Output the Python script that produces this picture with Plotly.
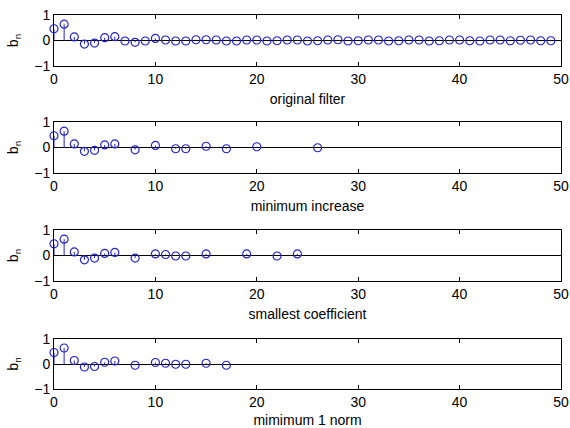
import plotly.graph_objects as go

# ---- data ----
orig_n = list(range(50))
orig_b = [0.46, 0.64, 0.14, -0.14, -0.10, 0.11, 0.15, -0.02, -0.07, -0.02,
          0.08, 0.02, -0.02, -0.02, 0.03, 0.03, 0.02, -0.02, -0.02, 0.02,
          0.02, -0.02, -0.01, 0.02, 0.02, -0.02, -0.01, 0.02, 0.03, -0.02,
          -0.01, 0.02, 0.02, -0.02, -0.01, 0.02, 0.02, -0.02, -0.01, 0.02,
          0.02, -0.01, -0.02, 0.02, 0.02, -0.01, 0.01, 0.02, -0.01, -0.01]

mininc_n = [0, 1, 2, 3, 4, 5, 6, 8, 10, 12, 13, 15, 17, 20, 26]
mininc_b = [0.46, 0.64, 0.14, -0.15, -0.11, 0.10, 0.14, -0.09, 0.08, -0.05, -0.05, 0.05, -0.05, 0.03, -0.01]

small_n = [0, 1, 2, 3, 4, 5, 6, 8, 10, 11, 12, 13, 15, 19, 22, 24]
small_b = [0.46, 0.64, 0.14, -0.17, -0.10, 0.08, 0.12, -0.10, 0.06, 0.04, -0.02, -0.02, 0.06, 0.06, -0.02, 0.06]

l1_n = [0, 1, 2, 3, 4, 5, 6, 8, 10, 11, 12, 13, 15, 17]
l1_b = [0.46, 0.64, 0.14, -0.12, -0.10, 0.07, 0.12, -0.05, 0.06, 0.03, -0.01, -0.01, 0.03, -0.05]

titles = ["original filter", "minimum increase", "smallest coefficient", "mimimum 1 norm"]
x_ticks = [0, 10, 20, 30, 40, 50]
y_ticks = [-1, 0, 1]

series = [(orig_n, orig_b), (mininc_n, mininc_b), (small_n, small_b), (l1_n, l1_b)]

W, H = 570, 428
ML, MR, MT, MB = 54, 9, 15, 39
PW, PH = W - ML - MR, H - MT - MB
y_px = [(15, 66), (122, 173), (230, 281), (339, 389)]

BLUE = "#2424c8"
FONT = "Liberation Sans, Arial, sans-serif"
FS = 14

fig = go.Figure()
layout = dict(
    width=W, height=H, margin=dict(l=ML, r=MR, t=MT, b=MB, autoexpand=False),
    paper_bgcolor="white", plot_bgcolor="white", showlegend=False,
    font=dict(family=FONT, size=FS, color="black"),
)

for i, ((ns, bs), title, (top, bot)) in enumerate(zip(series, titles, y_px)):
    k = "" if i == 0 else str(i + 1)
    sx, sy = [], []
    for n, b in zip(ns, bs):
        sx += [n, n, None]
        sy += [0, b, None]
    fig.add_trace(go.Scatter(x=sx, y=sy, mode="lines", line=dict(color=BLUE, width=1),
                             xaxis="x" + k, yaxis="y" + k, hoverinfo="skip"))
    fig.add_trace(go.Scatter(x=ns, y=bs, mode="markers", cliponaxis=False,
                             marker=dict(symbol="circle-open", size=8, color=BLUE, line=dict(width=1.2, color=BLUE)),
                             xaxis="x" + k, yaxis="y" + k))
    layout["xaxis" + k] = dict(
        domain=[0, 1], range=[0, 50], anchor="y" + k, automargin=False,
        tickvals=x_ticks, ticks="inside", ticklen=4, tickcolor="black",
        showgrid=False, zeroline=False, showline=True, linecolor="black", linewidth=1, mirror="ticks",
        tickfont=dict(size=FS, family=FONT),
        title=dict(text=title, standoff=8, font=dict(size=FS, family=FONT)),
    )
    layout["yaxis" + k] = dict(
        domain=[(H - MB - bot) / PH, (H - MB - top) / PH], range=[-1, 1], anchor="x" + k, automargin=False,
        tickvals=y_ticks, ticks="inside", ticklen=4, tickcolor="black",
        showgrid=False, zeroline=True, zerolinecolor="black", zerolinewidth=1,
        showline=True, linecolor="black", linewidth=1, mirror="ticks",
        tickfont=dict(size=FS, family=FONT),
        title=dict(text="b<sub>n</sub>", standoff=12, font=dict(size=FS, family=FONT)),
    )

fig.update_layout(**layout)
fig.write_html("out.html", config={"displayModeBar": False},
               post_script="document.body.style.margin='0';")
